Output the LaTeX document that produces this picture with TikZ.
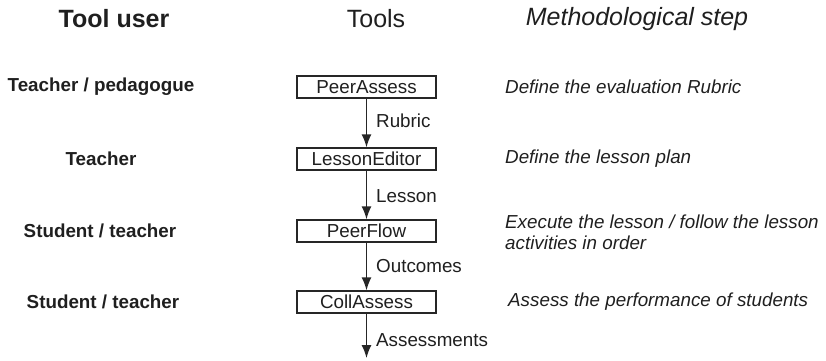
\documentclass[tikz,border=0pt]{standalone}
\usepackage{fontspec}
\setmainfont{Liberation Sans}
\usetikzlibrary{arrows.meta}
\begin{document}
\begin{tikzpicture}[x=1pt,y=-1pt,
  every node/.style={text=black!88},
  header/.style={font=\fontsize{25}{28}\selectfont, inner sep=0pt},
  user/.style={font=\fontsize{18.8}{21}\selectfont\bfseries, inner sep=0pt},
  stepnote/.style={font=\fontsize{18.8}{21}\selectfont\itshape, inner sep=0pt, anchor=west, align=left},
  toolbox/.style={draw=black!85, line width=1.3pt, minimum width=139pt, minimum height=22pt, inner sep=0pt, font=\fontsize{18.8}{21}\selectfont},
  flow/.style={draw=black!85, line width=1.4pt, -{Latex[length=13pt,width=10pt]}},
  flowlabel/.style={font=\fontsize{18.8}{21}\selectfont, inner sep=0pt, anchor=west, xshift=9pt}
]
\useasboundingbox (0,0) rectangle (826,360);
% headers
\node[header, font=\fontsize{25}{28}\selectfont\bfseries] (h1) at (114,19) {Tool user};
\node[header] (h2) at (376,19) {Tools};
\node[header, font=\fontsize{25}{28}\selectfont\itshape] (h3) at (637,19) {Methodological step};
% users
\node[user] (u1) at (101,87) {Teacher / pedagogue};
\node[user] (u2) at (101,159) {Teacher};
\node[user] (u3) at (100,231) {Student / teacher};
\node[user] (u4) at (103,302) {Student / teacher};
% tools
\node[toolbox] (t1) at (366.5,87) {PeerAssess};
\node[toolbox] (t2) at (366.5,159) {LessonEditor};
\node[toolbox] (t3) at (366.5,231) {PeerFlow};
\node[toolbox] (t4) at (366.5,302) {CollAssess};
\coordinate (end) at (366.5,358);
% steps
\node[stepnote] (s1) at (505,87) {Define the evaluation Rubric};
\node[stepnote] (s2) at (505,159) {Define the lesson plan};
\node[stepnote] (s3) at (505,232) {Execute the lesson / follow the lesson\\activities in order};
\node[stepnote] (s4) at (508,302) {Assess the performance of students};
% arrows
\draw[flow] (t1) -- node[flowlabel, pos=0.45] (l1) {Rubric} (t2);
\draw[flow] (t2) -- node[flowlabel, pos=0.52] (l2) {Lesson} (t3);
\draw[flow] (t3) -- node[flowlabel, pos=0.5] (l3) {Outcomes} (t4);
\draw[flow] (t4.south) -- node[flowlabel, pos=0.6] (l4) {Assessments} (end);
\end{tikzpicture}
\end{document}
